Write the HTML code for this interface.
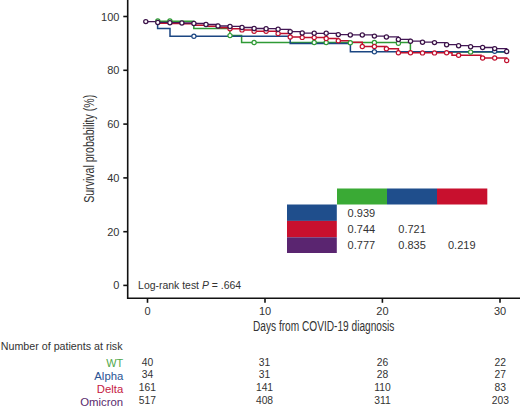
<!DOCTYPE html>
<html><head><meta charset="utf-8"><style>
html,body{margin:0;padding:0;background:#fff;}
svg{display:block;font-family:"Liberation Sans",sans-serif;}
</style></head><body>
<svg width="520" height="408" viewBox="0 0 520 408" font-family="Liberation Sans, sans-serif">
<rect width="520" height="408" fill="#fff"/>
<g stroke="#111" stroke-width="1.6" fill="none"><path d="M127.7,0 V298.3 H520"/><path d="M123.3,16.5 H127.7"/><path d="M123.3,70.3 H127.7"/><path d="M123.3,124.1 H127.7"/><path d="M123.3,177.9 H127.7"/><path d="M123.3,231.7 H127.7"/><path d="M123.3,285.4 H127.7"/><path d="M147.5,298.3 V302.8"/><path d="M265.0,298.3 V302.8"/><path d="M382.4,298.3 V302.8"/><path d="M500.0,298.3 V302.8"/></g>
<g fill="#333333" font-family="Liberation Sans, sans-serif" font-size="11"><text x="119.4" y="20.5" text-anchor="end">100</text><text x="119.4" y="74.3" text-anchor="end">80</text><text x="119.4" y="128.1" text-anchor="end">60</text><text x="119.4" y="181.9" text-anchor="end">40</text><text x="119.4" y="235.7" text-anchor="end">20</text><text x="119.4" y="289.4" text-anchor="end">0</text><text x="147.5" y="315.2" text-anchor="middle">0</text><text x="265.0" y="315.2" text-anchor="middle">10</text><text x="382.4" y="315.2" text-anchor="middle">20</text><text x="500.0" y="315.2" text-anchor="middle">30</text></g>

<text x="253" y="330.8" font-size="13.8" textLength="141.3" lengthAdjust="spacingAndGlyphs" fill="#333333">Days from COVID-19 diagnosis</text>
<text transform="translate(94.1,202.8) rotate(-90)" x="0" y="0" font-size="15" textLength="108" lengthAdjust="spacingAndGlyphs" fill="#333333">Survival probability (%)</text>
<text x="138.1" y="288.6" font-size="10.7" textLength="103" lengthAdjust="spacingAndGlyphs" fill="#333333">Log-rank test <tspan font-style="italic">P</tspan> = .664</text>


<rect x="337" y="188.5" width="50" height="16" fill="#3aaa35"/>
<rect x="387" y="188.5" width="50" height="16" fill="#1f4e8c"/>
<rect x="437" y="188.5" width="50.3" height="16" fill="#c8102e"/>
<rect x="287" y="204.5" width="49.8" height="16.4" fill="#1f4e8c"/>
<rect x="287" y="220.9" width="49.8" height="16.4" fill="#c8102e"/>
<rect x="287" y="237.3" width="49.8" height="15.7" fill="#5a2570"/>
<g fill="#333333" font-size="11">
<text x="347.6" y="216.9">0.939</text>
<text x="347.6" y="233">0.744</text>
<text x="398.3" y="233">0.721</text>
<text x="347.6" y="249.2">0.777</text>
<text x="398.3" y="249.2">0.835</text>
<text x="448" y="249.2">0.219</text>
</g>


<g fill="none" stroke-width="1.5" stroke-linejoin="miter">
<path d="M157.8,21.2 H193.8 V28.6 H229.9 V35.6 H241.6 V42.6 H410.4 V51.9 H506.7" stroke="#2f9a35"/>
<path d="M157.6,21.6 H157.6 V28.5 H170.0 V36.2 H290.2 V43.6 H350.4 V51.7 H506.7" stroke="#1b4682"/>
<path d="M157.8,23.2 H169.9 V23.5 H181.9 V23.8 H193.9 V25.2 H206.0 V26.2 H218.0 V27.8 H230.0 V28.7 H242.0 V29.9 H254.1 V31.2 H278.1 V33.6 H290.2 V37.0 H302.2 V37.4 H314.2 V37.6 H326.2 V38.5 H338.3 V40.7 H350.3 V42.3 H362.3 V46.5 H386.4 V48.7 H398.4 V52.8 H452.0 V55.3 H481.0 V58.0 H506.7 V60.6" stroke="#c0102e"/>
<path d="M145.8,21.6 H157.8 V22.4 H169.9 V22.7 H181.9 V23.0 H193.9 V23.5 H206.0 V24.5 H218.0 V26.0 H230.0 V26.4 H242.0 V27.5 H254.1 V28.5 H266.1 V28.7 H278.1 V29.3 H290.2 V31.7 H302.2 V33.1 H314.2 V33.3 H326.2 V33.3 H338.3 V34.6 H350.3 V34.9 H362.3 V34.9 H374.4 V36.1 H386.4 V36.9 H398.4 V39.4 H410.5 V41.2 H422.5 V42.2 H434.5 V42.6 H446.6 V44.7 H458.6 V45.7 H470.6 V46.7 H482.6 V47.5 H494.7 V48.6 H506.7 V51.4" stroke="#431756" stroke-width="1.3"/>
<g fill="#fff" stroke="#2f9a35" stroke-width="1.2"><circle cx="157.8" cy="21.0" r="2.1"/><circle cx="169.9" cy="21.0" r="2.1"/><circle cx="230.0" cy="35.6" r="2.1"/><circle cx="254.1" cy="42.5" r="2.1"/><circle cx="314.2" cy="42.5" r="2.1"/><circle cx="326.2" cy="42.5" r="2.1"/><circle cx="350.3" cy="42.7" r="2.1"/><circle cx="374.4" cy="42.5" r="2.1"/><circle cx="398.4" cy="43.3" r="2.1"/><circle cx="470.6" cy="52.1" r="2.1"/></g>
<g fill="#fff" stroke="#1b4682" stroke-width="1.2"><circle cx="193.9" cy="36.2" r="2.1"/><circle cx="374.4" cy="51.7" r="2.1"/><circle cx="494.7" cy="51.3" r="2.1"/></g>
<g fill="#fff" stroke="#c0102e" stroke-width="1.2"><circle cx="230.0" cy="28.7" r="2.1"/><circle cx="242.0" cy="29.9" r="2.1"/><circle cx="254.1" cy="31.2" r="2.1"/><circle cx="266.1" cy="31.2" r="2.1"/><circle cx="278.1" cy="33.6" r="2.1"/><circle cx="290.2" cy="37.0" r="2.1"/><circle cx="302.2" cy="37.4" r="2.1"/><circle cx="314.2" cy="37.6" r="2.1"/><circle cx="326.2" cy="38.5" r="2.1"/><circle cx="338.3" cy="40.7" r="2.1"/><circle cx="362.3" cy="46.5" r="2.1"/><circle cx="374.4" cy="46.5" r="2.1"/><circle cx="386.4" cy="48.7" r="2.1"/><circle cx="398.4" cy="52.8" r="2.1"/><circle cx="410.5" cy="52.8" r="2.1"/><circle cx="422.5" cy="52.9" r="2.1"/><circle cx="434.5" cy="52.9" r="2.1"/><circle cx="446.6" cy="52.7" r="2.1"/><circle cx="458.6" cy="55.3" r="2.1"/><circle cx="482.6" cy="58.0" r="2.1"/><circle cx="494.7" cy="58.0" r="2.1"/><circle cx="506.7" cy="60.6" r="2.1"/></g>
<g fill="#fff" stroke="#3b1248" stroke-width="1.25"><circle cx="145.8" cy="21.6" r="2.1"/><circle cx="157.8" cy="22.4" r="2.1"/><circle cx="169.9" cy="22.7" r="2.1"/><circle cx="181.9" cy="23.0" r="2.1"/><circle cx="193.9" cy="23.5" r="2.1"/><circle cx="206.0" cy="24.5" r="2.1"/><circle cx="218.0" cy="26.0" r="2.1"/><circle cx="230.0" cy="26.4" r="2.1"/><circle cx="242.0" cy="27.5" r="2.1"/><circle cx="254.1" cy="28.5" r="2.1"/><circle cx="266.1" cy="28.7" r="2.1"/><circle cx="278.1" cy="29.3" r="2.1"/><circle cx="290.2" cy="31.7" r="2.1"/><circle cx="302.2" cy="33.1" r="2.1"/><circle cx="314.2" cy="33.3" r="2.1"/><circle cx="326.2" cy="33.3" r="2.1"/><circle cx="338.3" cy="34.6" r="2.1"/><circle cx="350.3" cy="34.9" r="2.1"/><circle cx="362.3" cy="34.9" r="2.1"/><circle cx="374.4" cy="36.1" r="2.1"/><circle cx="386.4" cy="36.9" r="2.1"/><circle cx="398.4" cy="39.4" r="2.1"/><circle cx="410.5" cy="41.2" r="2.1"/><circle cx="422.5" cy="42.2" r="2.1"/><circle cx="434.5" cy="42.6" r="2.1"/><circle cx="446.6" cy="44.7" r="2.1"/><circle cx="458.6" cy="45.7" r="2.1"/><circle cx="470.6" cy="46.7" r="2.1"/><circle cx="482.6" cy="47.5" r="2.1"/><circle cx="494.7" cy="48.6" r="2.1"/><circle cx="506.7" cy="51.4" r="2.1"/></g>
</g>

<text x="0.8" y="349.8" font-size="10" textLength="121.7" lengthAdjust="spacingAndGlyphs" fill="#333333">Number of patients at risk</text>
<g font-size="10.3" text-anchor="end">
<text x="123.3" y="367" textLength="17" lengthAdjust="spacingAndGlyphs" fill="#4fa84a">WT</text>
<text x="123.3" y="380.3" textLength="29" lengthAdjust="spacingAndGlyphs" fill="#2a5393">Alpha</text>
<text x="123.2" y="393" textLength="26.4" lengthAdjust="spacingAndGlyphs" fill="#c5203f">Delta</text>
<text x="123.2" y="405.8" textLength="43" lengthAdjust="spacingAndGlyphs" fill="#5a2a6e">Omicron</text>
</g>
<g font-size="10.3" text-anchor="middle" fill="#333333">
<text x="147.4" y="365.5">40</text><text x="264.5" y="365.5">31</text><text x="382.4" y="365.5">26</text><text x="500.3" y="365.5">22</text><text x="147.4" y="378.3">34</text><text x="264.5" y="378.3">31</text><text x="382.4" y="378.3">28</text><text x="500.3" y="378.3">27</text><text x="147.4" y="391.0">161</text><text x="264.5" y="391.0">141</text><text x="382.4" y="391.0">110</text><text x="500.3" y="391.0">83</text><text x="147.4" y="403.9">517</text><text x="264.5" y="403.9">408</text><text x="382.4" y="403.9">311</text><text x="500.3" y="403.9">203</text></g>
</svg>
</body></html>
